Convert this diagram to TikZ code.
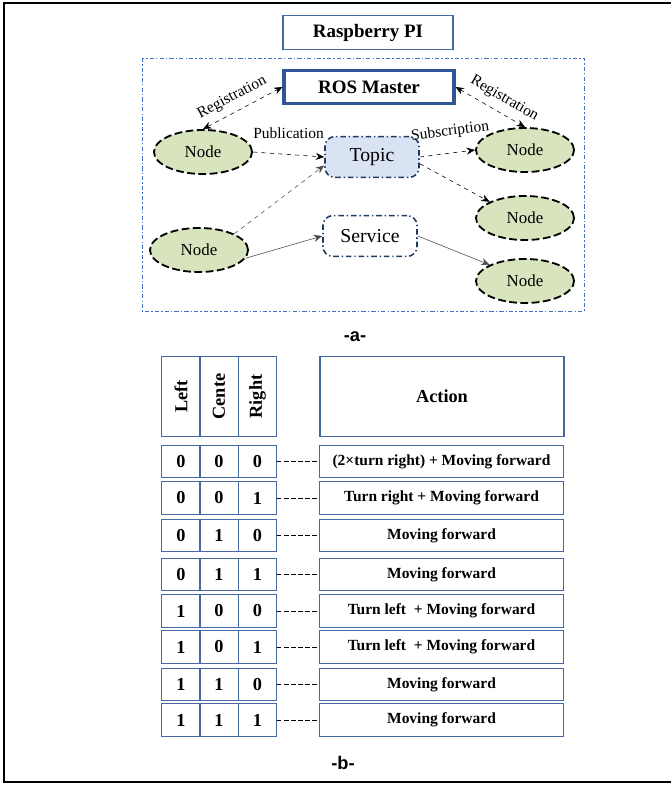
\documentclass[tikz,border=0pt]{standalone}
\usepackage{fontspec}
\setmainfont{Liberation Serif}
\setsansfont{Liberation Sans}
\usepackage{tikz}
\usetikzlibrary{calc}
\usetikzlibrary{positioning}
\usetikzlibrary{shapes.geometric}
\usetikzlibrary{arrows.meta}
\definecolor{nodegreen}{RGB}{215,228,189}
\definecolor{topicblue}{RGB}{218,227,243}
\definecolor{boxblue}{RGB}{68,104,160}
\definecolor{masterblue}{RGB}{47,85,151}
\definecolor{frameblue}{RGB}{68,114,196}
\definecolor{darkblue}{RGB}{31,56,100}
\tikzstyle{rosnode} = [draw, ellipse, fill=nodegreen, line width=1.3pt, dash pattern=on 5.5pt off 2.5pt, minimum width=2.45cm, minimum height=1.1cm, font=\fontsize{12}{14}\selectfont]
\tikzstyle{channel} = [draw=darkblue, rounded corners=7pt, line width=1.1pt, dash pattern=on 4pt off 2pt on 1pt off 2pt, minimum width=2.35cm, minimum height=1.02cm, font=\fontsize{14}{16}\selectfont]
\tikzstyle{titlebox} = [draw=boxblue, line width=0.8pt, minimum width=4.25cm, minimum height=0.84cm, font=\fontsize{13.5}{16}\selectfont\bfseries]
\tikzstyle{cell} = [draw=boxblue, line width=0.8pt, minimum width=0.96cm, minimum height=0.82cm, font=\fontsize{13}{15}\selectfont\bfseries]
\tikzstyle{actcell} = [draw=boxblue, line width=0.8pt, minimum width=6.08cm, minimum height=0.82cm, font=\fontsize{11}{13}\selectfont\bfseries]
\tikzstyle{msg} = [-{Stealth[length=6pt,width=5pt]}, dashed, thin]
\tikzstyle{msgboth} = [{Stealth[length=6pt,width=5pt]}-{Stealth[length=6pt,width=5pt]}, dashed, thin]
\tikzstyle{call} = [-{Stealth[length=6pt,width=5pt]}, thin, black!70]
\tikzstyle{link} = [thin, dash pattern=on 3pt off 2pt]
\tikzstyle{lbl} = [font=\fontsize{11}{13}\selectfont, inner sep=1pt]
\tikzstyle{caption} = [font=\sffamily\bfseries\fontsize{13}{15}\selectfont]

\begin{document}
\begin{tikzpicture}[x=0.025cm, y=-0.025cm]
    \useasboundingbox (0,0) rectangle (671,785);
    \draw[line width=1.4pt] (672,3) -- (4,3) -- (4,782) -- (672,782);

    \node[titlebox] (raspberry) at (368,32.5) {Raspberry PI};
    \draw[frameblue, line width=0.6pt, dash pattern=on 3pt off 1.5pt on 1pt off 1.5pt] (142,58) rectangle (584,311);
    \node[titlebox, draw=masterblue, line width=2.2pt] (ros_master) at (369,87) {ROS Master};

    \node[rosnode] (node_pub) at (203,152) {Node};
    \node[rosnode] (node_both) at ($(node_pub)+(-4,98)$) {Node};
    \node[rosnode] (node_sub) at (525,150) {Node};
    \node[rosnode] (node_sub_two) at ($(node_sub)+(0,68)$) {Node};
    \node[rosnode] (node_srv) at ($(node_sub_two)+(0,63)$) {Node};
    \node[channel, fill=topicblue] (topic) at (372,157) {Topic};
    \node[channel, fill=white] (service) at ($(topic)+(-2,79)$) {Service};

    \draw[msgboth] (node_pub.north) -- node[lbl, sloped, above=4pt, pos=0.45] {Registration} (ros_master.west);
    \draw[msgboth] (ros_master.east) -- node[lbl, sloped, above=4pt, pos=0.6] {Registration} (node_sub.north);
    \draw[msg] (node_pub.east) -- node[lbl, above=10pt] {Publication} (topic.west);
    \draw[msg, black!70] (node_both.north east) -- (topic.190);
    \draw[msg] (topic.east) -- node[lbl, sloped, above=9pt, pos=0.6] {Subscription} (node_sub.west);
    \draw[msg] (topic.-8) -- (node_sub_two.north west);
    \draw[call] (node_both.-10) -- (service.west);
    \draw[call] (service.east) -- (node_srv.north west);

    \node[caption] (cap_a) at (355,337) {-a-};

    \node[cell, minimum height=1.98cm] (h_left) at (181,396.5) {\rotatebox{90}{Left}};
    \node[cell, minimum height=1.98cm] (h_center) at ($(h_left)+(38,0)$) {\rotatebox{90}{Cente}};
    \node[cell, minimum height=1.98cm] (h_right) at ($(h_center)+(38.5,0)$) {\rotatebox{90}{Right}};
    \node[actcell, minimum width=6.1cm, minimum height=1.98cm, font=\fontsize{13}{15}\selectfont\bfseries] (h_action) at (442,396.5) {Action};

    \node[cell] (r1_left) at (181,461.5) {0};
    \node[cell] (r1_center) at ($(r1_left)+(38,0)$) {0};
    \node[cell] (r1_right) at ($(r1_center)+(38.5,0)$) {0};
    \node[actcell] (r1_action) at ($(r1_left)+(260.5,0)$) {(2×turn right) + Moving forward};
    \draw[link] (r1_right) -- (r1_action);

    \node[cell] (r2_left) at (181,498) {0};
    \node[cell] (r2_center) at ($(r2_left)+(38,0)$) {0};
    \node[cell] (r2_right) at ($(r2_center)+(38.5,0)$) {1};
    \node[actcell] (r2_action) at ($(r2_left)+(260.5,0)$) {Turn right + Moving forward};
    \draw[link] (r2_right) -- (r2_action);

    \node[cell] (r3_left) at (181,535.5) {0};
    \node[cell] (r3_center) at ($(r3_left)+(38,0)$) {1};
    \node[cell] (r3_right) at ($(r3_center)+(38.5,0)$) {0};
    \node[actcell] (r3_action) at ($(r3_left)+(260.5,0)$) {Moving forward};
    \draw[link] (r3_right) -- (r3_action);

    \node[cell] (r4_left) at (181,574.5) {0};
    \node[cell] (r4_center) at ($(r4_left)+(38,0)$) {1};
    \node[cell] (r4_right) at ($(r4_center)+(38.5,0)$) {1};
    \node[actcell] (r4_action) at ($(r4_left)+(260.5,0)$) {Moving forward};
    \draw[link] (r4_right) -- (r4_action);

    \node[cell] (r5_left) at (181,611) {1};
    \node[cell] (r5_center) at ($(r5_left)+(38,0)$) {0};
    \node[cell] (r5_right) at ($(r5_center)+(38.5,0)$) {0};
    \node[actcell] (r5_action) at ($(r5_left)+(260.5,0)$) {Turn left~ + Moving forward};
    \draw[link] (r5_right) -- (r5_action);

    \node[cell] (r6_left) at (181,647) {1};
    \node[cell] (r6_center) at ($(r6_left)+(38,0)$) {0};
    \node[cell] (r6_right) at ($(r6_center)+(38.5,0)$) {1};
    \node[actcell] (r6_action) at ($(r6_left)+(260.5,0)$) {Turn left~ + Moving forward};
    \draw[link] (r6_right) -- (r6_action);

    \node[cell] (r7_left) at (181,684.5) {1};
    \node[cell] (r7_center) at ($(r7_left)+(38,0)$) {1};
    \node[cell] (r7_right) at ($(r7_center)+(38.5,0)$) {0};
    \node[actcell] (r7_action) at ($(r7_left)+(260.5,0)$) {Moving forward};
    \draw[link] (r7_right) -- (r7_action);

    \node[cell] (r8_left) at (181,720) {1};
    \node[cell] (r8_center) at ($(r8_left)+(38,0)$) {1};
    \node[cell] (r8_right) at ($(r8_center)+(38.5,0)$) {1};
    \node[actcell] (r8_action) at ($(r8_left)+(260.5,0)$) {Moving forward};
    \draw[link] (r8_right) -- (r8_action);

    \node[caption] (cap_b) at (343,763) {-b-};
\end{tikzpicture}
\end{document}
